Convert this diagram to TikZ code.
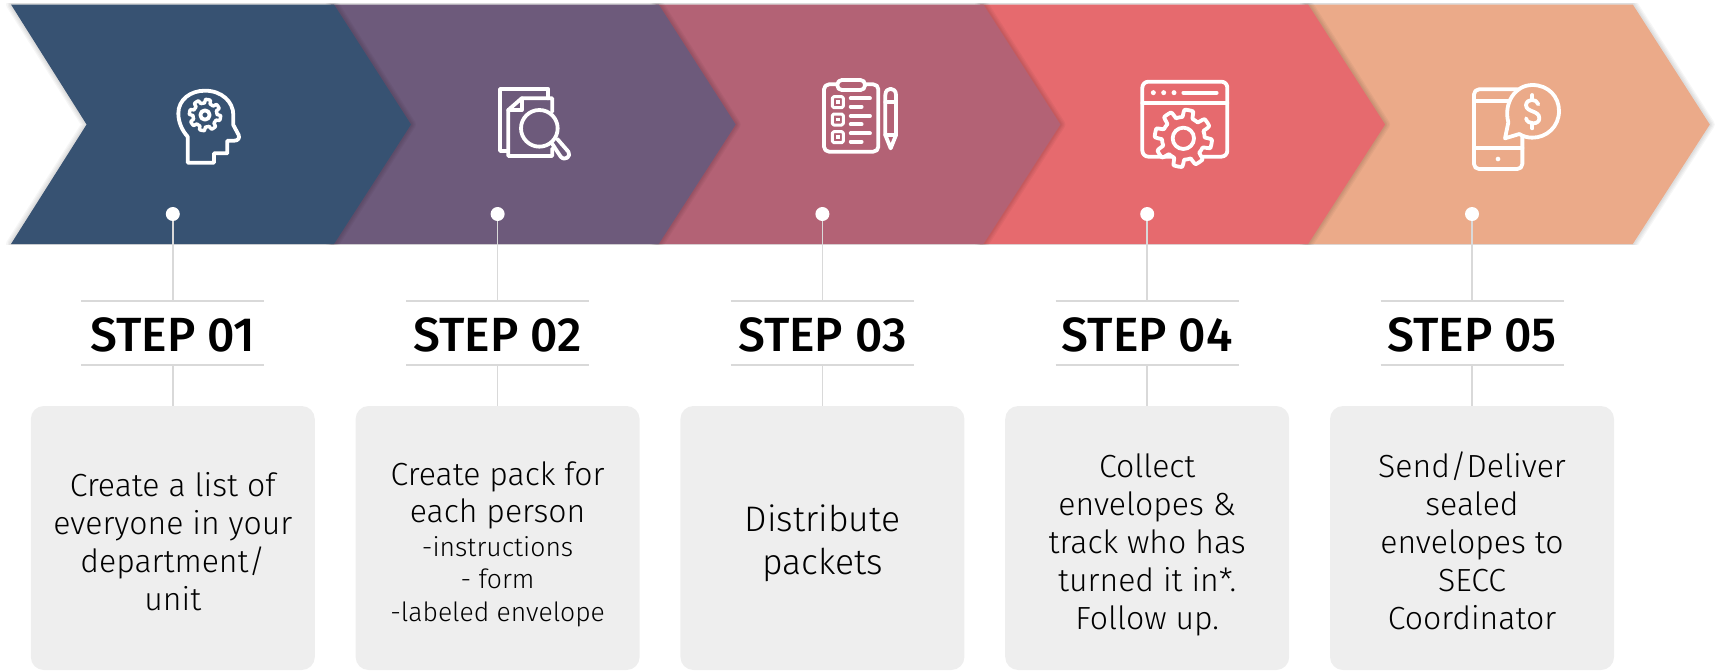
\documentclass[tikz,border=0pt]{standalone}
\usepackage{fontspec}
\setmainfont{Fira Sans}[BoldFont={Fira Sans Medium}]
\newfontfamily\bodyfont{Fira Sans Light}
\definecolor{cnavy}{HTML}{375272}
\definecolor{cpurple}{HTML}{6D5A7B}
\definecolor{crose}{HTML}{B36275}
\definecolor{cred}{HTML}{E66A6E}
\definecolor{cpeach}{HTML}{EBAA89}
\definecolor{cgrey}{HTML}{D9D9D9}
\definecolor{cbox}{HTML}{EEEEEE}
\tikzset{
  conn/.style={draw=cgrey,line width=1.6pt},
  rulebar/.style={draw=cgrey,line width=2.2pt},
  dotnode/.style={circle,fill=white,inner sep=0pt,minimum size=14pt},
  headnode/.style={font=\fontsize{48}{48}\selectfont\bfseries,inner sep=0pt,text=black},
  boxnode/.style={fill=cbox,rounded corners=13pt,minimum width=284pt,minimum height=264pt,inner sep=0pt},
  textnode/.style={inner sep=0pt,align=center,text=black,font=\bodyfont\fontsize{32}{38}\selectfont},
  icon/.style={draw=white,line width=3.8pt,line join=round,line cap=round},
  iconfill/.style={draw=white,line width=3.8pt,line join=round,line cap=round,fill=#1},
}
\newcommand{\smalltxt}{\fontsize{26.5}{33}\selectfont}
\newcommand{\bigtxt}{\fontsize{35.5}{42.5}\selectfont}
% #1 = horizontal offset, #2 = how far the left side reaches under the chevron before it
\newcommand{\chevronpath}[2]{(#1+11-#2,4.5) -- (#1+334,4.5) -- (#1+411,124.5) -- (#1+334,244) -- (#1+11-#2,244) -- (#1+86.6-#2,124.5) -- cycle}
\newcommand{\gearshape}[6]{% cx cy ri ro teeth, style
  \draw[#6] plot[domain=0:360,samples=181,smooth] ({#1+(#3+(#4-#3)*min(1,max(0,0.5+1.6*sin(#5*\x))))*cos(\x)},{#2+(#3+(#4-#3)*min(1,max(0,0.5+1.6*sin(#5*\x))))*sin(\x)}) -- cycle;}
\begin{document}
\begin{tikzpicture}[x=1pt,y=-1pt]
\useasboundingbox (0,0) rectangle (1715,670);
% chevrons, last first, so that each tip lies on the next
\foreach \k/\c/\ov in {4/cpeach/5,3/cred/5,2/crose/5,1/cpurple/5,0/cnavy/0}{
  \pgfmathsetmacro{\dx}{\k*324.7}
  \begin{scope}
    \clip (0,3.5) rectangle (1715,244);
    \foreach \w in {10,7.5,5,3}{
      \draw[black,opacity=0.035,line width=\w pt,line join=round] \chevronpath{\dx}{\ov};
    }
  \end{scope}
  \fill[\c] \chevronpath{\dx}{\ov};
}
% steps
\foreach \k/\n/\t in {
  0/01/{Create a list of\\everyone in your\\department/\\unit},
  1/02/{Create pack for\\[-1pt]each person\\[-4pt]{\smalltxt -instructions}\\[-6pt]{\smalltxt - form}\\[-5pt]{\smalltxt -labeled envelope}},
  2/03/{{\bigtxt Distribute}\\[4.5pt]{\bigtxt packets}},
  3/04/{Collect\\envelopes \&\\track who has\\turned it in*.\\Follow up.},
  4/05/{Send/Deliver\\sealed\\envelopes to\\SECC\\Coordinator}}{
  \pgfmathsetmacro{\cx}{172.8+\k*324.8}
  \coordinate (topL\n) at (\cx-91.5,301);
  \coordinate (topR\n) at (\cx+91.5,301);
  \coordinate (top\n) at (\cx,301);
  \coordinate (botL\n) at (\cx-91.5,365);
  \coordinate (botR\n) at (\cx+91.5,365);
  \coordinate (bot\n) at (\cx,365);
  \node[boxnode] (box\n) at (\cx,538) {};
  \node[textnode] (txt\n) at (\cx,545.5) {\rule{0pt}{26.6pt}\t\rule[-11.4pt]{0pt}{11.4pt}};
  \node[dotnode] (dot\n) at (\cx,214) {};
  \node[headnode] (head\n) at (\cx,335) {STEP \n};
  \draw[conn] (dot\n) -- (top\n);
  \draw[conn] (bot\n) -- (box\n.north);
  \draw[rulebar] (topL\n) -- (topR\n);
  \draw[rulebar] (botL\n) -- (botR\n);
}
% icon 1: head with gear
\begin{scope}[shift={(150,70)},scale=1/3]
  \draw[icon] (113,278) -- (113,200) .. controls (95,180) and (85,155) .. (85,130) .. controls (85,90) and (120,62) .. (165,62) .. controls (215,62) and (250,95) .. (250,135) -- (250,165) -- (266,195) .. controls (270,205) and (263,212) .. (253,212) -- (232,212) -- (232,250) -- (192,250) -- (192,278) -- cycle;
  \gearshape{165}{135}{36}{47}{8}{icon,line width=3.4pt}
  \draw[icon] (165,135) circle[radius=14];
\end{scope}
% icon 2: documents and lens
\begin{scope}[shift={(470,70)},scale=1/3]
  \draw[icon] (112,243) -- (90,243) -- (90,57) -- (235,57) -- (235,85);
  \draw[icon] (247,125) -- (247,85) -- (155,85) -- (115,120) -- (115,258) -- (247,258) -- (247,235);
  \draw[icon] (155,85) -- (155,120) -- (115,120);
  \draw[icon] (208,175) circle[radius=55];
  \draw[icon] (247,222) -- (272,260) .. controls (285,275) and (305,258) .. (295,245) -- (262,207);
\end{scope}
% icon 3: clipboard and pencil
\begin{scope}[shift={(780,40)},scale=1/3]
  \draw[icon,rounded corners=5pt] (132,133) rectangle (295,335);
  \draw[iconfill=crose,rounded corners=4.5pt] (172,120) rectangle (255,150);
  \foreach \y in {170,222,275}{
    \draw[icon,line width=3pt,rounded corners=1.5pt] (157,\y) rectangle ++(33,33);
    \fill[white] (168,\y+11) rectangle ++(11,11);
  }
  \foreach \y in {175,228,280}{
    \draw[icon] (212,\y) -- (270,\y);
    \draw[icon] (212,\y+25) -- (245,\y+25);
  }
  \draw[icon] (316,285) -- (316,165) .. controls (316,140) and (348,140) .. (348,165) -- (348,285) -- (332,325) -- cycle;
  \draw[icon] (316,187) -- (348,187);
  \draw[icon] (316,285) -- (348,285);
\end{scope}
% icon 4: window and gear
\begin{scope}[shift={(1100,50)},scale=1/3]
  \draw[icon,rounded corners=6pt] (127,95) rectangle (382,320);
  \draw[icon] (127,160) -- (382,160);
  \foreach \x in {160,191,222}{\fill[white] (\x,128) circle[radius=7.5];}
  \draw[icon] (250,128) -- (350,128);
  \gearshape{250}{265}{64}{86}{8}{iconfill=cred}
  \draw[icon] (250,265) circle[radius=32];
\end{scope}
% icon 5: phone and coin bubble
\begin{scope}[shift={(1430,60)},scale=1/3]
  \draw[icon,rounded corners=5pt] (132,88) rectangle (277,327);
  \draw[icon] (132,122) -- (245,122);
  \draw[icon] (132,265) -- (277,265);
  \fill[white] (204,297) circle[radius=7];
  \draw[iconfill=cpeach] (235,187) .. controls (220,130) and (255,75) .. (307,75) .. controls (355,75) and (387,110) .. (387,153) .. controls (387,200) and (350,233) .. (307,233) .. controls (295,233) and (280,230) .. (268,222) -- (225,235) -- cycle;
  \draw[icon] (325,133) .. controls (320,115) and (290,115) .. (288,135) .. controls (288,158) and (328,150) .. (328,175) .. controls (328,195) and (292,195) .. (288,175);
  \draw[icon] (307,105) -- (307,118);
  \draw[icon] (307,190) -- (307,205);
\end{scope}
\end{tikzpicture}
\end{document}
